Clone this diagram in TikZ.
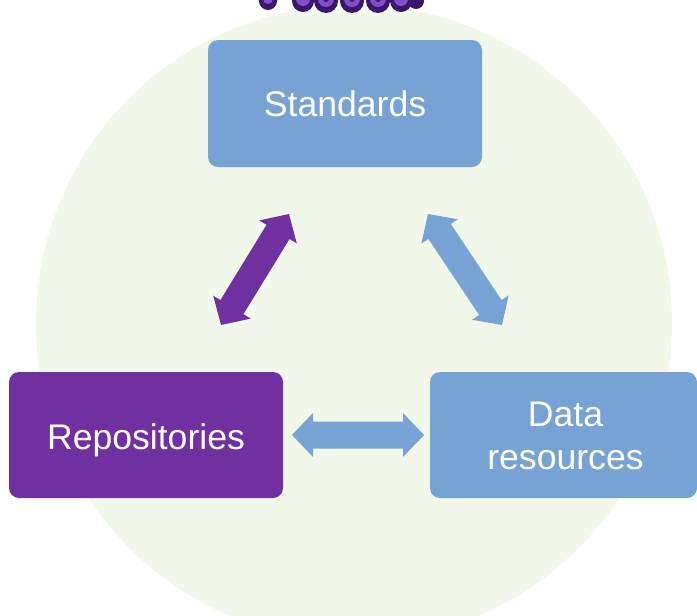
\documentclass[tikz,border=0pt]{standalone}
\usepackage{fontspec}
\setmainfont{Liberation Sans}
\usetikzlibrary{calc}
\definecolor{boxblue}{RGB}{118,162,212}
\definecolor{boxpurple}{RGB}{112,48,160}
\definecolor{paleback}{RGB}{241,248,233}
\definecolor{logodark}{RGB}{58,22,110}
\definecolor{logolight}{RGB}{128,80,200}
\tikzset{
  card/.style={rounded corners=10pt, inner sep=0pt, text=white,
    font=\fontsize{35.6}{43}\selectfont, align=center},
  bluecard/.style={card, fill=boxblue},
  purplecard/.style={card, fill=boxpurple},
}
% broad two-headed arrow between two named points
\newcommand\fatarrow[3]{%
  \coordinate (h1) at ($(#1)!21pt!(#2)$);
  \coordinate (h2) at ($(#2)!21pt!(#1)$);
  \fill[#3] (#1) -- ($(h1)!22pt!90:(#2)$) -- ($(h1)!13.5pt!90:(#2)$)
    -- ($(h2)!13.5pt!-90:(#1)$) -- ($(h2)!22pt!-90:(#1)$) -- (#2)
    -- ($(h2)!22pt!90:(#1)$) -- ($(h2)!13.5pt!90:(#1)$)
    -- ($(h1)!13.5pt!-90:(#2)$) -- ($(h1)!22pt!-90:(#2)$) -- cycle;
}
\begin{document}
\begin{tikzpicture}[x=1pt,y=-1pt]
\useasboundingbox (0,0) rectangle (697,616);
\begin{scope}
\clip (0,0) rectangle (697,616);
% pale background disc
\fill[paleback] (354,323) circle[radius=318];
% bubbly logo lettering, cut off at the top edge
\foreach \x/\r in {268/9, 303/11, 326/12, 352/12, 378/12, 401/11, 416/8}
  \fill[logodark] (\x,1) circle[radius=\r];
\foreach \x/\r in {268/5, 303/7, 326/8, 352/8, 378/8, 401/7}
  \fill[logolight] (\x,-1) circle[radius=\r];
\foreach \x in {326,352,378}
  \fill[logodark] (\x,-1) circle[radius=3];
% boxes
\node[bluecard, minimum width=274pt, minimum height=127pt, text depth=0pt] (std) at (345,103.5) {Standards};
\node[purplecard, minimum width=274pt, minimum height=126pt, text depth=0pt] (repo) at (146,435) {};
\node[text=white, font=\fontsize{35.6}{43}\selectfont, inner sep=0pt, anchor=base] (repolabel) at (146,449) {Repositories};
\node[bluecard, minimum width=267pt, minimum height=126pt] (data) at (563.5,435) {};
\node[text=white, font=\fontsize{35.6}{43}\selectfont, inner sep=0pt, align=center] (datalabel) at (565.5,436) {Data\\resources};
\end{scope}
% two-headed arrows between the boxes
\coordinate (pa) at (221,325);
\coordinate (pb) at (289,214);
\coordinate (ba) at (428,214);
\coordinate (bb) at (502,325);
\coordinate (ha) at (292,435);
\coordinate (hb) at (424,435);
\fatarrow{pa}{pb}{boxpurple}
\fatarrow{ba}{bb}{boxblue}
\fatarrow{ha}{hb}{boxblue}
\end{tikzpicture}
\end{document}
